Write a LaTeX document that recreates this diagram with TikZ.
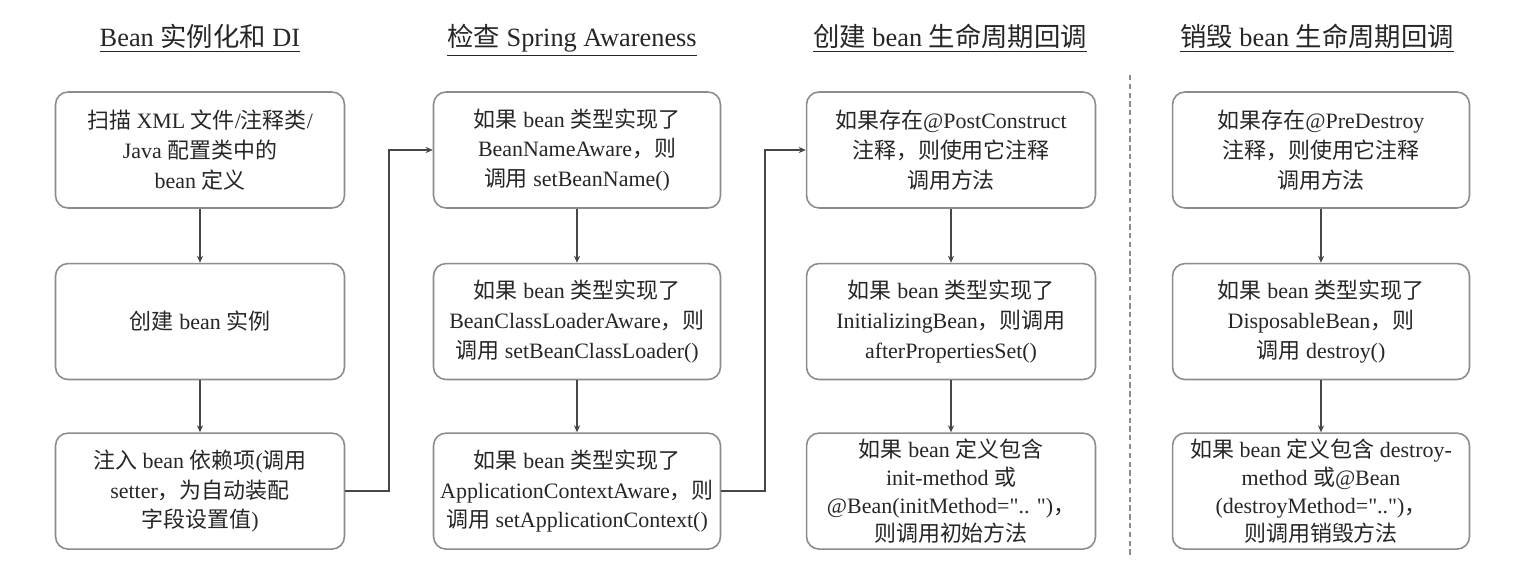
\documentclass[tikz,border=0pt]{standalone}
\usepackage{fontspec}
\setmainfont{Liberation Serif}
\newfontfamily\zhfont{Noto Sans CJK SC}
\newcommand{\zh}[1]{{\zhfont #1}}
\usetikzlibrary{arrows.meta,positioning}
\definecolor{boxline}{HTML}{8C8C8C}
\definecolor{flowline}{HTML}{474747}

\tikzset{
  stepbox/.style={draw=boxline, line width=0.9pt, rounded corners=0.25cm,
    minimum width=5.78cm, minimum height=2.32cm, align=center, inner sep=2pt,
    font=\fontsize{12.5}{17}\selectfont, text=black!85},
  tightbox/.style={font=\fontsize{12.5}{15.8}\selectfont},
  headline/.style={font=\fontsize{15}{18}\selectfont, text=black!85, anchor=base},
  flow/.style={-{Stealth[length=4pt,width=3.5pt]}, line width=1.1pt, flowline},
  sepline/.style={boxline, line width=0.9pt, dash pattern=on 3pt off 2pt},
}

\begin{document}
\begin{tikzpicture}[x=0.02cm,y=-0.02cm]
  \useasboundingbox (0,0) rectangle (1513,573);

  % === Column headings ===
  \node[headline] (h1) at (200,47) {\underline{Bean \zh{实例化和} DI}};
  \node[headline] (h2) at (572,47) {\underline{\zh{检查} Spring Awareness}};
  \node[headline] (h3) at (950,47) {\underline{\zh{创建} bean \zh{生命周期回调}}};
  \node[headline] (h4) at (1317,47) {\underline{\zh{销毁} bean \zh{生命周期回调}}};

  % === Bean instantiation and DI ===
  \node[stepbox] (c1b1) at (200,150)
    {\zh{扫描} XML \zh{文件}/\zh{注释类}/\\ Java \zh{配置类中的}\\ bean \zh{定义}};
  \node[stepbox, below=1.08cm of c1b1] (c1b2) {\zh{创建} bean \zh{实例}};
  \node[stepbox, below=1.04cm of c1b2] (c1b3)
    {\zh{注入} bean \zh{依赖项}(\zh{调用}\\ setter\zh{，为自动装配}\\ \zh{字段设置值})};

  % === Spring awareness ===
  \node[stepbox, minimum width=5.74cm] (c2b1) at (577,150)
    {\zh{如果} bean \zh{类型实现了}\\ BeanNameAware\zh{，则}\\ \zh{调用} setBeanName()};
  \node[stepbox, minimum width=5.74cm, below=1.08cm of c2b1] (c2b2)
    {\zh{如果} bean \zh{类型实现了}\\ BeanClassLoaderAware\zh{，则}\\ \zh{调用} setBeanClassLoader()};
  \node[stepbox, minimum width=5.74cm, below=1.04cm of c2b2] (c2b3)
    {\zh{如果} bean \zh{类型实现了}\\ ApplicationContextAware\zh{，则}\\ \zh{调用} setApplicationContext()};

  % === Creation callbacks ===
  \node[stepbox] (c3b1) at (951,150)
    {\zh{如果存在}@PostConstruct\\ \zh{注释，则使用它注释}\\ \zh{调用方法}};
  \node[stepbox, below=1.08cm of c3b1] (c3b2)
    {\zh{如果} bean \zh{类型实现了}\\ InitializingBean\zh{，则调用}\\ afterPropertiesSet()};
  \node[stepbox, tightbox, below=1.04cm of c3b2] (c3b3)
    {\zh{如果} bean \zh{定义包含}\\ init-method \zh{或}\\ @Bean(initMethod=\textquotedbl.. \textquotedbl)\zh{，}\\ \zh{则调用初始方法}};

  % === Destruction callbacks ===
  \node[stepbox, minimum width=5.94cm] (c4b1) at (1321,150)
    {\zh{如果存在}@PreDestroy\\ \zh{注释，则使用它注释}\\ \zh{调用方法}};
  \node[stepbox, minimum width=5.94cm, below=1.08cm of c4b1] (c4b2)
    {\zh{如果} bean \zh{类型实现了}\\ DisposableBean\zh{，则}\\ \zh{调用} destroy()};
  \node[stepbox, tightbox, minimum width=5.94cm, below=1.04cm of c4b2] (c4b3)
    {\zh{如果} bean \zh{定义包含} destroy-\\ method \zh{或}@Bean\\ (destroyMethod=\textquotedbl..\textquotedbl)\zh{，}\\ \zh{则调用销毁方法}};

  % Separator before destruction phase
  \coordinate (septop) at (1130,75);
  \coordinate (sepbot) at (1130,557);
  \draw[sepline] (septop) -- (sepbot);

  % Flow inside each column
  \foreach \c in {1,2,3,4} {
    \draw[flow] (c\c b1) -- (c\c b2);
    \draw[flow] (c\c b2) -- (c\c b3);
  }

  % Flow between columns
  \draw[flow] (c1b3.east) -- ++(44,0) |- (c2b1.west);
  \draw[flow] (c2b3.east) -- ++(44,0) |- (c3b1.west);
\end{tikzpicture}
\end{document}
